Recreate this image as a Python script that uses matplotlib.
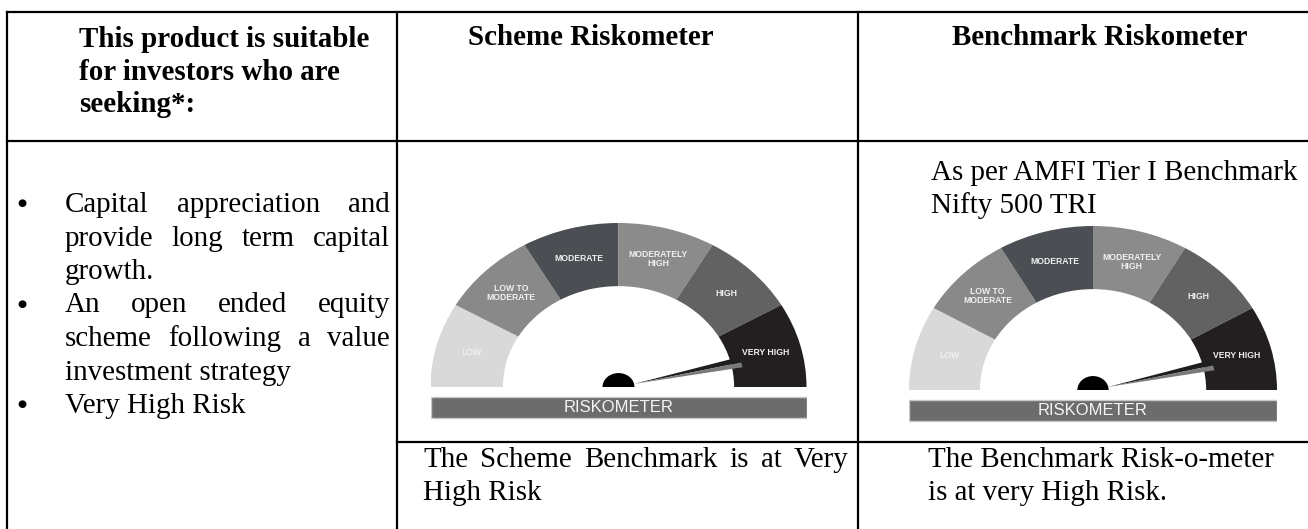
import matplotlib.pyplot as plt
from matplotlib.patches import Wedge, Rectangle, Polygon
import numpy as np

W, H = 1308, 529

# riskometer data
risk_levels = ["LOW", "LOW TO\nMODERATE", "MODERATE", "MODERATELY\nHIGH", "HIGH", "VERY HIGH"]
level_shades = ["#d9d9d9", "#898989", "#4b4e52", "#8b8b8b", "#626262", "#231f20"]
scheme_level = 5.57      # needle position, counted in segments from the left
benchmark_level = 5.57

# table text
header_left = ["This product is suitable", "for investors who are", "seeking*:"]
header_scheme = "Scheme Riskometer"
header_bench = "Benchmark Riskometer"
bullet_points = [
    ["Capital appreciation and", "provide long term capital", "growth."],
    ["An open ended equity", "scheme following a value", "investment strategy"],
    ["Very High Risk"],
]
bench_intro = ["As per AMFI Tier I Benchmark", "Nifty 500 TRI"]
scheme_note = ["The Scheme Benchmark is at Very", "High Risk"]
bench_note = ["The Benchmark Risk-o-meter", "is at very High Risk."]

serif = "Liberation Serif"
fs = 20.9   # ~29 px

fig = plt.figure(figsize=(W / 100, H / 100), dpi=100)
ax = fig.add_axes([0, 0, 1, 1])
ax.set_xlim(0, W)
ax.set_ylim(H, 0)
ax.axis("off")

# table grid
lw = 1.6
col1, col2 = 397, 858
top, head_bot, low_row = 12, 141, 442
ax.plot([7, W + 5], [top, top], color="black", lw=lw)
ax.plot([7, W + 5], [head_bot, head_bot], color="black", lw=lw)
ax.plot([col1, W + 5], [low_row, low_row], color="black", lw=lw)
for x in [7, col1, col2]:
    ax.plot([x, x], [top, H + 5], color="black", lw=lw)

renderer = fig.canvas.get_renderer()


def justify(line, x0, x1, y, **kw):
    # spread the words of one line so it fills x0..x1
    words = line.split()
    texts = [ax.text(0, y, w, va="baseline", **kw) for w in words]
    widths = [t.get_window_extent(renderer).width for t in texts]
    gap = (x1 - x0 - sum(widths)) / (len(words) - 1)
    x = x0
    for t, w in zip(texts, widths):
        t.set_x(x)
        x += w + gap


# headers
for i, line in enumerate(header_left):
    ax.text(79, 47 + i * 32.5, line, family=serif, fontsize=fs, fontweight="bold", va="baseline")
ax.text(468, 45, header_scheme, family=serif, fontsize=fs, fontweight="bold", va="baseline")
ax.text(952, 45, header_bench, family=serif, fontsize=fs, fontweight="bold", va="baseline")

# bullet list
y = 212
step = 33.5
for lines in bullet_points:
    ax.text(22, y - 9, "\u25cf", family="DejaVu Sans", fontsize=7.5, ha="center", va="center")
    for j, line in enumerate(lines):
        if j < len(lines) - 1:
            justify(line, 65, 390, y, family=serif, fontsize=fs)
        else:
            ax.text(65, y, line, family=serif, fontsize=fs, va="baseline")
        y += step

# right column intro
for i, line in enumerate(bench_intro):
    ax.text(931, 180 + i * 33, line, family=serif, fontsize=fs, va="baseline")

# bottom row notes
justify(scheme_note[0], 423, 848, 467, family=serif, fontsize=fs)
ax.text(423, 500, scheme_note[1], family=serif, fontsize=fs, va="baseline")
for i, line in enumerate(bench_note):
    ax.text(928, 467 + i * 33, line, family=serif, fontsize=fs, va="baseline")


def riskometer(cx, cy, sx, sy, level):
    gax = fig.add_axes([(cx - sx) / W, 1 - (cy + 0.2 * sy) / H, 2 * sx / W, 1.2 * sy / H])
    gax.set_xlim(-1, 1)
    gax.set_ylim(-0.2, 1)
    gax.axis("off")
    n = len(risk_levels)
    seg = 180 / n
    for i, (lab, col) in enumerate(zip(risk_levels, level_shades)):
        a0, a1 = 180 - (i + 1) * seg, 180 - i * seg
        gax.add_patch(Wedge((0, 0), 1, a0, a1, width=0.385, facecolor=col, edgecolor="none"))
        mid = np.radians((a0 + a1) / 2)
        gax.text(0.81 * np.cos(mid), 0.81 * np.sin(mid), lab, ha="center", va="center",
                 color="#f0f0f0", fontsize=6.2, fontweight="bold", family="Liberation Sans",
                 linespacing=1.0)
    # needle
    th = np.radians(180 - level * seg)
    d = np.array([np.cos(th), np.sin(th)])
    nrm = np.array([-np.sin(th), np.cos(th)])
    base = 0.085 * d
    far = 0.67 * d
    gax.add_patch(Polygon([base, far + 0.035 * nrm, far], closed=True, facecolor="#1e1e1e", edgecolor="none"))
    gax.add_patch(Polygon([base, far, far - 0.03 * nrm], closed=True, facecolor="#7a7a7a", edgecolor="none"))
    gax.add_patch(Wedge((0, 0), 0.085, 0, 180, facecolor="black", edgecolor="none"))
    # label bar
    gax.add_patch(Rectangle((-1, -0.189), 2, 0.128, facecolor="#6c6c6c", edgecolor="#c8c8c8", lw=1))
    gax.text(0, -0.127, "RISKOMETER", ha="center", va="center", color="#f4f4f4",
             fontsize=12, family="Liberation Sans")


riskometer(618.5, 387, 188, 164, scheme_level)
riskometer(1093, 390, 184, 164, benchmark_level)

fig.savefig("out.png", dpi=100)
